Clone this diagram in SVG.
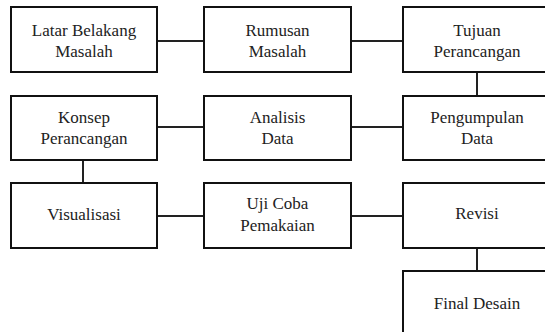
<svg xmlns="http://www.w3.org/2000/svg" width="545" height="332" viewBox="0 0 545 332">
<style>
.box{fill:#fff;stroke:#111;stroke-width:2}
.lbl{font-family:'Liberation Serif','Times New Roman',serif;font-size:17px;fill:#222;text-anchor:middle}
.con{stroke:#222;stroke-width:2;fill:none}
</style>
<rect width="545" height="332" fill="#fff"/>
<g id="connectors">
<line class="con" x1="157" y1="41" x2="204" y2="41"/>
<line class="con" x1="351" y1="41" x2="403" y2="41"/>
<line class="con" x1="477" y1="72" x2="477" y2="96"/>
<line class="con" x1="351" y1="127" x2="403" y2="127"/>
<line class="con" x1="157" y1="127" x2="204" y2="127"/>
<line class="con" x1="83" y1="160" x2="83" y2="183"/>
<line class="con" x1="157" y1="216" x2="204" y2="216"/>
<line class="con" x1="351" y1="216" x2="403" y2="216"/>
<line class="con" x1="477" y1="248" x2="477" y2="271"/>
</g>
<g id="latar"><rect class="box" x="11" y="7" width="146" height="65"/><text class="lbl" x="84" y="36">Latar Belakang</text><text class="lbl" x="84" y="57">Masalah</text></g>
<g id="rumusan"><rect class="box" x="204" y="7" width="147" height="65"/><text class="lbl" x="277.5" y="36">Rumusan</text><text class="lbl" x="277.5" y="57">Masalah</text></g>
<g id="tujuan"><rect class="box" x="403" y="7" width="148" height="65"/><text class="lbl" x="477" y="36">Tujuan</text><text class="lbl" x="477" y="57">Perancangan</text></g>
<g id="konsep"><rect class="box" x="11" y="96" width="146" height="64"/><text class="lbl" x="84" y="123">Konsep</text><text class="lbl" x="84" y="144">Perancangan</text></g>
<g id="analisis"><rect class="box" x="204" y="96" width="147" height="64"/><text class="lbl" x="277.5" y="123">Analisis</text><text class="lbl" x="277.5" y="144">Data</text></g>
<g id="pengumpulan"><rect class="box" x="403" y="96" width="148" height="64"/><text class="lbl" x="477" y="123">Pengumpulan</text><text class="lbl" x="477" y="144">Data</text></g>
<g id="visualisasi"><rect class="box" x="11" y="183" width="146" height="65"/><text class="lbl" x="84" y="220">Visualisasi</text></g>
<g id="ujicoba"><rect class="box" x="204" y="183" width="147" height="65"/><text class="lbl" x="277.5" y="209">Uji Coba</text><text class="lbl" x="277.5" y="231">Pemakaian</text></g>
<g id="revisi"><rect class="box" x="403" y="183" width="148" height="65"/><text class="lbl" x="477" y="219">Revisi</text></g>
<g id="final"><rect class="box" x="403" y="271" width="148" height="70"/><text class="lbl" x="477" y="309">Final Desain</text></g>
</svg>
